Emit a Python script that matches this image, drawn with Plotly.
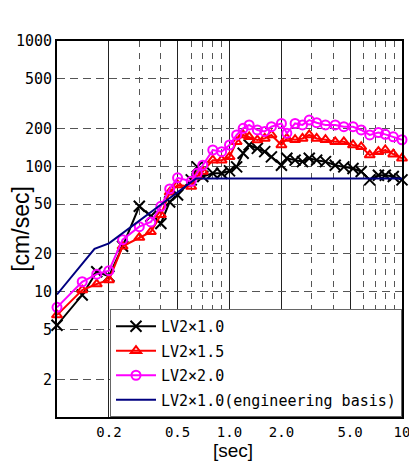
import plotly.graph_objects as go

# Periods [sec]
period = [0.1, 0.14, 0.17, 0.2, 0.24, 0.3, 0.35, 0.4, 0.45, 0.5, 0.6, 0.65, 0.7, 0.8, 0.9,
          1.0, 1.1, 1.2, 1.3, 1.45, 1.6, 1.75, 2.0, 2.15, 2.4, 2.65, 2.9, 3.2, 3.6, 4.1,
          4.6, 5.2, 5.8, 6.5, 7.3, 8.0, 8.9, 10.0]

lv2_x10 = [5.4, 9.4, 14.4, 13.3, 23, 48, 40, 35, 52, 59, 78, 99, 83, 88, 88,
           92, 99, 127, 148, 139, 131, 119, 102, 116, 112, 109, 116, 112, 109, 102,
           99, 96, 91, 78, 85, 85, 83, 78]

lv2_x15 = [6.5, 10.3, 11.5, 12.4, 23, 27, 30, 41, 62, 71, 69, 83, 91, 112, 112,
           119, 157, 178, 172, 162, 167, 178, 148, 167, 163, 167, 178, 167, 163, 157,
           157, 148, 143, 123, 131, 135, 125, 116]

lv2_x20 = [7.5, 12, 13.8, 14.7, 26, 33, 36, 48, 66, 81, 76, 88, 102, 135, 131,
           148, 178, 201, 214, 195, 190, 207, 220, 184, 220, 214, 234, 223, 214, 214,
           207, 207, 195, 178, 186, 180, 172, 163]

eng_period = [0.1, 0.165, 0.2, 0.24, 0.64, 10.0]
eng_vel = [9.5, 22, 24.3, 29.3, 80, 80]

names = ["LV2×1.0", "LV2×1.5", "LV2×2.0", "LV2×1.0(engineering basis)"]

x_major = [0.2, 0.5, 1.0, 2.0, 5.0, 10.0]
x_major_text = ["0.2", "0.5", "1.0", "2.0", "5.0", "10"]
x_minor = [0.3, 0.4, 0.6, 0.7, 0.8, 0.9, 3, 4, 6, 7, 8, 9]
y_major = [2, 5, 10, 20, 50, 100, 200, 500, 1000]
y_major_text = ["2", "5", "10", "20", "50", "100", "200", "500", "1000"]

MONO = "DejaVu Sans Mono"
SANS = "Liberation Sans"

fig = go.Figure()
fig.add_trace(go.Scatter(x=period, y=lv2_x10, name=names[0], mode="lines+markers",
                         legendgroup="a", cliponaxis=False,
                         line=dict(color="#000000", width=2),
                         marker=dict(symbol="x-thin-open", size=11,
                                     line=dict(color="#000000", width=2))))
fig.add_trace(go.Scatter(x=period, y=lv2_x15, name=names[1], mode="lines+markers",
                         legendgroup="b", cliponaxis=False,
                         line=dict(color="#ff0000", width=2),
                         marker=dict(symbol="triangle-up-open", size=9, color="#ff0000",
                                     line=dict(color="#ff0000", width=2))))
fig.add_trace(go.Scatter(x=period, y=lv2_x20, name=names[2], mode="lines+markers",
                         legendgroup="c", cliponaxis=False,
                         line=dict(color="#ff00ff", width=2),
                         marker=dict(symbol="circle-open", size=9, color="#ff00ff",
                                     line=dict(color="#ff00ff", width=2))))
fig.add_trace(go.Scatter(x=eng_period, y=eng_vel, name=names[3], mode="lines",
                         legendgroup="d",
                         line=dict(color="#000080", width=2)))

# page body adds an 8px margin, so the figure is 8px smaller on each axis
fig.update_layout(
    width=409, height=454,
    margin=dict(l=49, r=15, t=33, b=45),
    paper_bgcolor="white", plot_bgcolor="white",
    font=dict(family=MONO, size=15, color="black"),
    showlegend=True,
    legend=dict(x=1, y=0, xanchor="right", yanchor="bottom",
                bgcolor="white", bordercolor="#666666", borderwidth=1,
                font=dict(family=MONO, size=15), tracegroupgap=2,
                itemwidth=40),
    xaxis=dict(type="log", range=[-1, 1], showline=True, linecolor="black", linewidth=2,
               mirror=True, tickmode="array", tickvals=x_major, ticktext=x_major_text,
               ticks="", showgrid=True, gridcolor="#222222", gridwidth=1,
               ticklabelstandoff=1, tickfont=dict(size=14), automargin=False,
               minor=dict(tickmode="array", tickvals=x_minor, showgrid=True,
                          gridcolor="#555555", griddash="6px,6px", gridwidth=1, ticks=""),
               zeroline=False),
    yaxis=dict(type="log", range=[0, 3], showline=True, linecolor="black", linewidth=2,
               mirror=True, tickmode="array", tickvals=y_major, ticktext=y_major_text,
               ticks="", showgrid=True, gridcolor="#555555", griddash="8px,5px", gridwidth=1,
               automargin=False,
               title=dict(text="[cm/sec]", font=dict(family=SANS, size=23), standoff=4),
               zeroline=False),
)

fig.add_annotation(text="[sec]", xref="paper", yref="paper", x=0.5, y=-45 / 376,
                   xanchor="center", yanchor="bottom", xshift=3, borderpad=0,
                   showarrow=False, font=dict(family=SANS, size=19))

fig.write_html("out.html")
